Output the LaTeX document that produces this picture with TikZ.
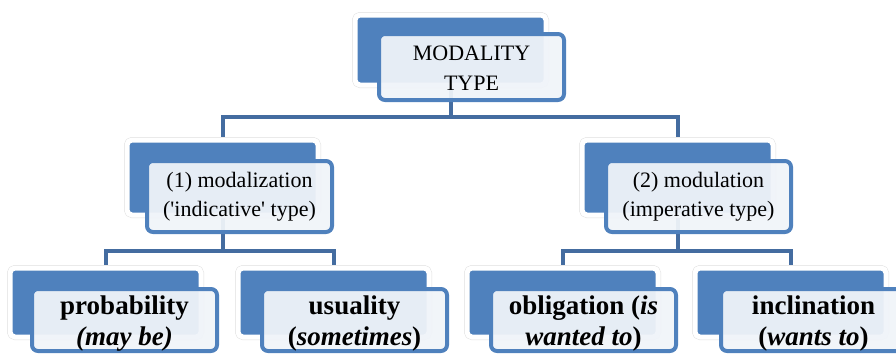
\documentclass[tikz,border=0pt]{standalone}
\usepackage{fontspec}
\setmainfont{Liberation Serif}
\usepackage{tikz}
\usetikzlibrary{backgrounds}

\definecolor{boxblue}{RGB}{79,129,189}
\definecolor{wireblue}{RGB}{68,108,160}
\definecolor{frontfill}{RGB}{240,244,249}

\newcommand{\toprowfont}{\fontsize{22}{30}\selectfont}
\newcommand{\midrowfont}{\fontsize{22}{29}\selectfont}
\newcommand{\lowrowfont}{\fontsize{27}{31}\selectfont\bfseries}

\begin{document}
\begin{tikzpicture}[x=1pt, y=-1pt]
    \pgfmathsetmacro{\busTop}{117}
    \pgfmathsetmacro{\busLow}{251}
    \tikzstyle{backbox}=[rectangle, rounded corners=5pt, fill=boxblue, draw=white, line width=5pt,
        preaction={draw=gray!25, line width=6pt}, minimum width=191pt, minimum height=70pt,
        inner sep=0pt, anchor=north west]
    \tikzstyle{frontbox}=[rectangle, rounded corners=6pt, draw=boxblue, line width=4pt,
        fill=frontfill, fill opacity=0.94, minimum width=185pt, minimum height=66pt,
        inner sep=0pt, anchor=north west]
    \tikzstyle{boxtext}=[align=center, inner sep=0pt, anchor=base, text=black]
    \tikzstyle{wire}=[line width=4pt, draw=wireblue]

    \useasboundingbox (0,0) rectangle (896,356);

    %%%%%%%%%%%%%%%%%%%%%%%%%%%%%%%%%%%%%%%%
    % root
    \node[backbox] (typeBg) at (352.5,12.5) {};
    \node[frontbox] (type) at (377,32) {};
    \node[boxtext, font=\toprowfont] (typeT) at ([yshift=-58pt]type.north) {MODALITY\\TYPE};

    %%%%%%%%%%%%%%%%%%%%%%%%%%%%%%%%%%%%%%%%
    % second level
    \node[backbox, minimum height=75pt] (mdzBg) at (124.5,137.5) {};
    \node[frontbox, minimum height=71pt] (mdz) at (145,159) {};
    \node[boxtext, font=\midrowfont] (mdzT) at ([yshift=-57pt]mdz.north)
        {(1) modalization\\(\textquotesingle indicative\textquotesingle\ type)};

    \node[backbox, minimum height=75pt] (mdlBg) at (579.5,137.5) {};
    \node[frontbox, minimum height=71pt] (mdl) at (604,159) {};
    \node[boxtext, font=\midrowfont] (mdlT) at ([yshift=-57pt]mdl.north)
        {(2) modulation\\(imperative type)};

    %%%%%%%%%%%%%%%%%%%%%%%%%%%%%%%%%%%%%%%%
    % leaves
    \node[backbox, minimum height=69pt] (probBg) at (7.5,265.5) {};
    \node[frontbox, minimum height=62pt] (prob) at (30,287) {};
    \node[boxtext, font=\lowrowfont] (probT) at ([yshift=-58pt]prob.north)
        {probability\\\textit{(may be)}};

    \node[backbox, minimum height=69pt] (usuBg) at (235.5,265.5) {};
    \node[frontbox, minimum height=62pt] (usu) at (260,287) {};
    \node[boxtext, font=\lowrowfont] (usuT) at ([yshift=-58pt]usu.north)
        {usuality\\(\textit{sometimes})};

    \node[backbox, minimum height=69pt] (oblBg) at (464.5,265.5) {};
    \node[frontbox, minimum height=62pt] (obl) at (489,287) {};
    \node[boxtext, font=\lowrowfont] (oblT) at ([yshift=-58pt]obl.north)
        {obligation (\textit{is}\\\textit{wanted to})};

    \node[backbox, minimum height=69pt] (inclBg) at (692.5,265.5) {};
    \node[frontbox, minimum height=62pt] (incl) at (719,287) {};
    \node[boxtext, font=\lowrowfont] (inclT) at ([yshift=-58pt]incl.north)
        {inclination\\(\textit{wants to})};

    %%%%%%%%%%%%%%%%%%%%%%%%%%%%%%%%%%%%%%%%
    % connectors, behind the boxes
    \coordinate (busA) at (0,\busTop);
    \coordinate (busB) at (0,\busLow);
    \begin{scope}[on background layer]
        \draw[wire] (typeBg.center) -- (typeBg.center |- busA);
        \draw[wire] (mdzBg.center) |- (busA -| mdlBg.center) -- (mdlBg.center);
        \draw[wire] (mdzBg.center) -- (mdzBg.center |- busB);
        \draw[wire] (probBg.center) |- (busB -| usuBg.center) -- (usuBg.center);
        \draw[wire] (mdlBg.center) -- (mdlBg.center |- busB);
        \draw[wire] (oblBg.center) |- (busB -| inclBg.center) -- (inclBg.center);
    \end{scope}
\end{tikzpicture}
\end{document}
